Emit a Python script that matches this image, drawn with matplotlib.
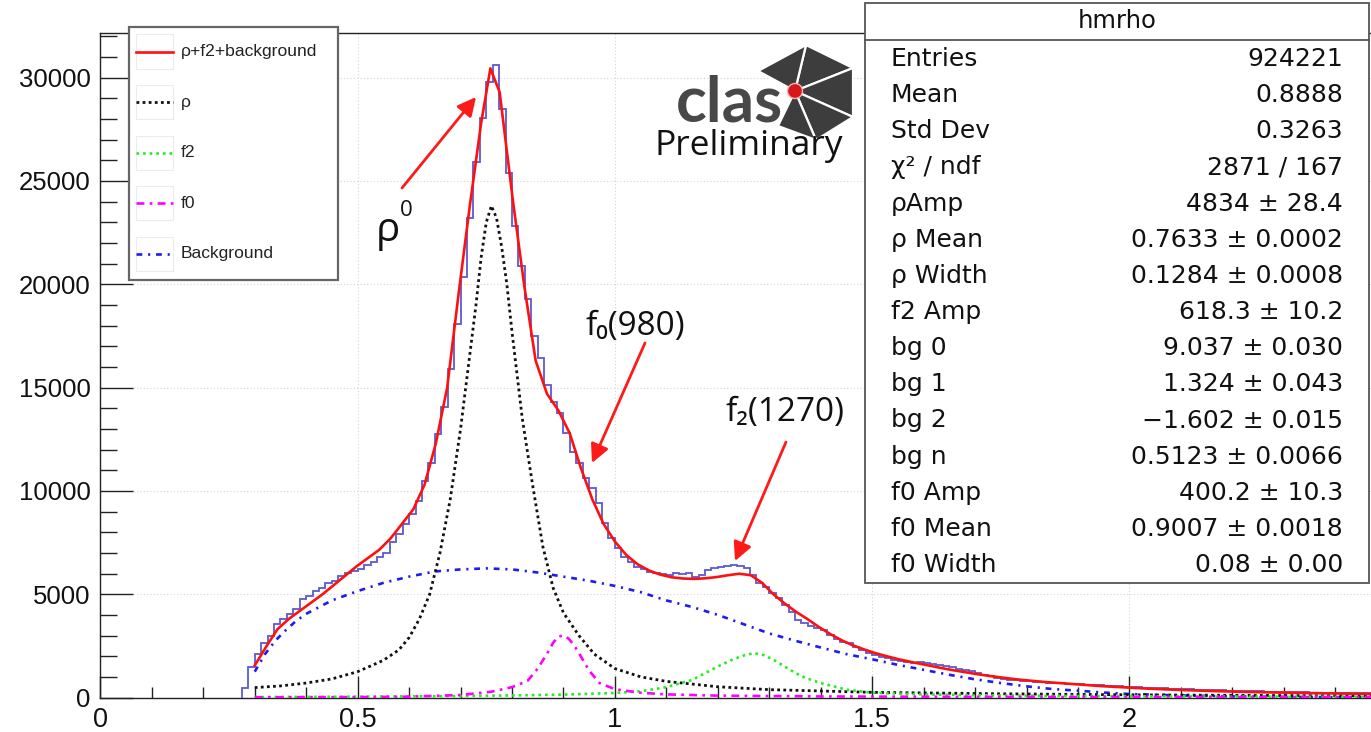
import numpy as np
import matplotlib
matplotlib.use("Agg")
import matplotlib.pyplot as plt
from matplotlib.patches import Rectangle, Polygon, Ellipse
from matplotlib.lines import Line2D

# ---------------- data ----------------
bin_lo = 0.275
bin_width = 0.0125
hist_counts = [
    450, 1500, 2100, 2660, 2990, 3580, 3790, 4030, 4280, 4790,
    4920, 5160, 5290, 5520, 5650, 5860, 6050, 6100, 6210, 6400,
    6570, 6780, 6990, 7550, 7910, 8390, 8880, 9520, 10490, 11370,
    12750, 14040, 15900, 18070, 20330, 23230, 25900, 28070, 29770, 30600,
    28480, 25410, 22830, 20900, 19300, 17500, 16420, 15130, 14320, 13760,
    12790, 11900, 11340, 10610, 10130, 9400, 8430, 7710, 7220, 6820,
    6570, 6330, 6200, 6090, 6010, 5980, 5930, 6040, 5980, 6040,
    5850, 5950, 6170, 6250, 6330, 6380, 6410, 6380, 6250, 5950,
    5530, 5360, 5050, 4800, 4480, 4150, 3750, 3590, 3460, 3350,
    3270, 3030, 2810, 2700, 2620, 2460, 2300, 2170, 2060, 1940,
    1900, 1820, 1790, 1740, 1690, 1700, 1680, 1620, 1560, 1510,
    1460, 1400, 1330, 1270, 1180, 1090, 1020, 960, 910, 870,
    840, 815, 790, 770, 745, 725, 705, 690, 670, 650,
    635, 615, 600, 585, 565, 550, 535, 520, 505, 490,
    475, 462, 450, 440, 428, 415, 402, 392, 380, 370,
    360, 350, 340, 332, 322, 315, 307, 300, 292, 285,
    278, 272, 265, 258, 252, 246, 240, 235, 230, 225,
    220, 215, 210, 205, 200, 196, 192, 188,
]

fit_x = [0.300, 0.322, 0.344, 0.366, 0.388, 0.410, 0.432, 0.454, 0.476, 0.498,
         0.520, 0.542, 0.564, 0.586, 0.608, 0.630, 0.652, 0.674, 0.696, 0.718,
         0.740, 0.758, 0.776, 0.802, 0.824, 0.846, 0.868, 0.890, 0.912, 0.934,
         0.956, 0.978, 1.000, 1.022, 1.044, 1.066, 1.088, 1.110, 1.132, 1.154,
         1.176, 1.198, 1.220, 1.242, 1.264, 1.286, 1.308, 1.330, 1.352, 1.374,
         1.396, 1.418, 1.440, 1.462, 1.484, 1.506, 1.528, 1.550, 1.572, 1.594,
         1.616, 1.638, 1.660, 1.682, 1.704, 1.726, 1.748, 1.770, 1.792, 1.814,
         1.836, 1.858, 1.880, 1.902, 1.924, 1.946, 1.968, 1.990, 2.034, 2.078,
         2.122, 2.166, 2.210, 2.254, 2.298, 2.342, 2.386, 2.430, 2.474]
fit_y = [1550, 2450, 3300, 3800, 4200, 4600, 5000, 5450, 5900, 6350,
         6750, 7150, 7700, 8400, 9100, 10300, 12300, 15000, 19500, 23800,
         27800, 30450, 29300, 24000, 19900, 16300, 14700, 13900, 12800, 11100,
         9600, 8400, 7550, 6900, 6450, 6150, 5950, 5820, 5760, 5740,
         5770, 5830, 5920, 5990, 5920, 5550, 5000, 4550, 4150, 3800,
         3420, 3080, 2780, 2530, 2330, 2150, 2000, 1860, 1740, 1630,
         1520, 1410, 1310, 1220, 1130, 1050, 980, 910, 850, 800,
         750, 710, 670, 630, 590, 550, 520, 490, 430, 385,
         345, 310, 280, 255, 235, 215, 200, 185, 172]

rho_x = [0.30, 0.35, 0.40, 0.45, 0.50, 0.55, 0.58, 0.60, 0.62, 0.64,
         0.66, 0.68, 0.70, 0.72, 0.73, 0.74, 0.75, 0.76, 0.77, 0.78,
         0.79, 0.80, 0.82, 0.84, 0.86, 0.88, 0.90, 0.93, 0.96, 1.00,
         1.05, 1.10, 1.20, 1.30, 1.50, 1.75, 2.00, 2.25, 2.47]
rho_y = [480, 560, 700, 900, 1250, 1800, 2300, 2900, 3800, 5000,
         7000, 9600, 13000, 17000, 19000, 21300, 23000, 23800, 23200, 21800,
         20000, 17700, 13500, 10300, 7300, 5300, 4100, 3000, 2100, 1400,
         1000, 780, 520, 380, 250, 180, 130, 100, 80]

f2_x = [0.30, 0.50, 0.70, 0.80, 0.90, 1.00, 1.05, 1.10, 1.15, 1.20,
        1.23, 1.25, 1.27, 1.29, 1.31, 1.33, 1.35, 1.37, 1.40, 1.45,
        1.50, 1.60, 1.70, 1.80, 2.00, 2.25, 2.47]
f2_y = [20, 40, 70, 100, 140, 220, 300, 500, 850, 1500,
        1850, 2030, 2150, 2050, 1800, 1500, 1200, 950, 700, 380,
        230, 150, 110, 90, 60, 40, 30]

f0_x = [0.30, 0.50, 0.60, 0.70, 0.76, 0.80, 0.83, 0.85, 0.87, 0.88,
        0.89, 0.90, 0.91, 0.92, 0.93, 0.95, 0.97, 1.00, 1.05, 1.10,
        1.20, 1.40, 1.70, 2.00, 2.47]
f0_y = [10, 20, 40, 120, 280, 500, 800, 1400, 2200, 2650,
        2950, 3000, 2850, 2550, 2150, 1300, 700, 400, 230, 150,
        90, 50, 30, 20, 15]

bg_x = [0.30, 0.32, 0.34, 0.36, 0.38, 0.40, 0.45, 0.50, 0.55, 0.60,
        0.65, 0.70, 0.75, 0.80, 0.85, 0.90, 0.95, 1.00, 1.05, 1.10,
        1.15, 1.20, 1.25, 1.30, 1.35, 1.40, 1.45, 1.50, 1.55, 1.60,
        1.65, 1.70, 1.75, 1.80, 1.85, 1.90, 1.95, 2.00, 2.10, 2.20,
        2.30, 2.47]
bg_y = [1250, 2100, 2750, 3250, 3700, 4050, 4700, 5150, 5550, 5850,
        6100, 6200, 6250, 6200, 6050, 5850, 5650, 5400, 5100, 4700,
        4380, 4000, 3550, 3100, 2750, 2420, 2100, 1850, 1580, 1340,
        1100, 880, 700, 540, 410, 330, 240, 170, 100, 55,
        30, 10]

legend_labels = ["ρ+f2+background", "ρ", "f2", "f0", "Background"]
stats_title = "hmrho"
stats_names = ["Entries", "Mean", "Std Dev", "χ² / ndf", "ρAmp", "ρ Mean",
               "ρ Width", "f2 Amp", "bg 0", "bg 1", "bg 2", "bg n",
               "f0 Amp", "f0 Mean", "f0 Width"]
stats_values = ["924221", "0.8888", "0.3263", "2871 / 167", "4834 ± 28.4",
                "0.7633 ± 0.0002", "0.1284 ± 0.0008", "618.3 ± 10.2",
                "9.037 ± 0.030", "1.324 ± 0.043", "−1.602 ± 0.015",
                "0.5123 ± 0.0066", "400.2 ± 10.3", "0.9007 ± 0.0018",
                "0.08 ± 0.00"]
x_ticks = [0, 0.5, 1, 1.5, 2]
x_tick_labels = ["0", "0.5", "1", "1.5", "2"]
y_ticks = [0, 5000, 10000, 15000, 20000, 25000, 30000]
y_tick_labels = ["0", "5000", "10000", "15000", "20000", "25000", "30000"]

# ---------------- layout helpers ----------------
W, H = 1371, 732
def fx(px):
    return px / W
def fy(py):
    return 1.0 - py / H

ROOT_FONT = ["Liberation Sans", "DejaVu Sans"]
STAT_FONT = ["DejaVu Sans"]
ANN_FONT = ["Open Sans", "DejaVu Sans"]

fig = plt.figure(figsize=(W / 100, H / 100), dpi=100)
fig.patch.set_facecolor("white")

ax_left, ax_bottom, ax_top = 100.4, 697.5, 33.0
ax = fig.add_axes([fx(ax_left), fy(ax_bottom), 1 - fx(ax_left), (ax_bottom - ax_top) / H])
px_per_unit = 514.5
px_per_count = (5000 / 103.3)
ax.set_xlim(0, (W - ax_left) / px_per_unit)
ax.set_ylim(0, (ax_bottom - ax_top) * px_per_count)

# grid
ax.set_axisbelow(True)
ax.grid(True, which="major", color="#d4d4d4", linestyle=(0, (1, 2)), linewidth=0.8)

# histogram
edges = bin_lo + bin_width * np.arange(len(hist_counts) + 1)
ax.stairs(hist_counts, edges, color="#5a5ad2", linewidth=1.3, baseline=0, zorder=3)

# components
ax.plot(bg_x, bg_y, color="#1c1cf0", linewidth=1.9, linestyle=(0, (2.2, 2.2, 0.8, 2.2)), zorder=4)
ax.plot(rho_x, rho_y, color="#111111", linewidth=2.0, linestyle=(0, (1, 1.2)), zorder=4)
ax.plot(f2_x, f2_y, color="#22ee22", linewidth=1.9, linestyle=(0, (1, 1.5)), zorder=4)
ax.plot(f0_x, f0_y, color="#ff00ff", linewidth=1.9, linestyle=(0, (3, 2, 1, 2)), zorder=4)
ax.plot(fit_x, fit_y, color="#ff1010", linewidth=1.9, zorder=5)

# axes styling
ax.spines["right"].set_visible(False)
for side in ("left", "bottom", "top"):
    ax.spines[side].set_color("#222222")
    ax.spines[side].set_linewidth(1.0)

ax.set_xticks(x_ticks)
ax.set_xticklabels(x_tick_labels, fontfamily=ROOT_FONT, fontsize=19.5)
ax.set_yticks(y_ticks)
ax.set_yticklabels(y_tick_labels, fontfamily=ROOT_FONT, fontsize=18.5)
ax.set_xticks(np.arange(0.1, 2.5, 0.1), minor=True)
ax.set_yticks(np.arange(1000, 32001, 1000), minor=True)
ax.tick_params(axis="x", which="major", direction="in", length=16, width=1.0, pad=7, colors="#222222")
ax.tick_params(axis="x", which="minor", direction="in", length=8, width=1.0, colors="#222222")
ax.tick_params(axis="y", which="major", direction="in", length=24, width=1.0, pad=7, colors="#222222")
ax.tick_params(axis="y", which="minor", direction="in", length=12, width=1.0, colors="#222222")
for lab in ax.get_xticklabels() + ax.get_yticklabels():
    lab.set_color("#111111")

# ---------------- legend (drawn on figure) ----------------
leg_l, leg_r, leg_t, leg_b = 129, 338, 27, 280
fig.add_artist(Rectangle((fx(leg_l), fy(leg_b)), fx(leg_r) - fx(leg_l), fy(leg_t) - fy(leg_b),
                         transform=fig.transFigure, facecolor="white", edgecolor="#666666",
                         linewidth=1.6, zorder=10))
leg_styles = [
    dict(color="#ff1010", linestyle="-", linewidth=1.9),
    dict(color="#111111", linestyle=(0, (1, 1.2)), linewidth=2.0),
    dict(color="#22ee22", linestyle=(0, (1, 1.5)), linewidth=1.9),
    dict(color="#ff00ff", linestyle=(0, (3, 2, 1, 2)), linewidth=1.9),
    dict(color="#1c1cf0", linestyle=(0, (2.2, 2.2, 0.8, 2.2)), linewidth=1.9),
]
row0, row_step = 51.5, 50.5
for i, (lab, st) in enumerate(zip(legend_labels, leg_styles)):
    yy = row0 + i * row_step
    fig.add_artist(Rectangle((fx(136), fy(yy + 17)), fx(173) - fx(136), fy(yy - 17) - fy(yy + 17),
                             transform=fig.transFigure, facecolor="none", edgecolor="#ececec",
                             linewidth=0.8, zorder=11))
    fig.add_artist(Line2D([fx(136), fx(173)], [fy(yy), fy(yy)], transform=fig.transFigure,
                          zorder=12, **st))
    fig.text(fx(181), fy(yy), lab, fontfamily=ROOT_FONT, fontsize=12.6, color="#222222",
             va="center", ha="left", zorder=12)

# ---------------- stats box ----------------
st_l, st_r, st_t, st_b, st_sep = 865, 1369, 3, 583, 39.5
fig.add_artist(Rectangle((fx(st_l), fy(st_b)), fx(st_r) - fx(st_l), fy(st_t) - fy(st_b),
                         transform=fig.transFigure, facecolor="white", edgecolor="#555555",
                         linewidth=1.3, zorder=10))
fig.add_artist(Line2D([fx(st_l), fx(st_r)], [fy(st_sep), fy(st_sep)], transform=fig.transFigure,
                      color="#555555", linewidth=1.3, zorder=11))
fig.text(fx((st_l + st_r) / 2), fy(21.5), stats_title, fontfamily=STAT_FONT, fontsize=17.5,
         color="#111111", ha="center", va="center", zorder=12)
srow0, srow_step = 59.0, 36.15
for i, (nm, val) in enumerate(zip(stats_names, stats_values)):
    yy = srow0 + i * srow_step
    fig.text(fx(891), fy(yy), nm, fontfamily=STAT_FONT, fontsize=18, color="#111111",
             ha="left", va="center", zorder=12)
    fig.text(fx(1343), fy(yy), val, fontfamily=STAT_FONT, fontsize=18, color="#111111",
             ha="right", va="center", zorder=12)

# ---------------- CLAS logo ----------------
logo_gray = "#3d3d3d"
cx, cy = 795, 91
verts = [(806, 45), (853, 68), (853, 117), (816, 140), (778, 126), (758, 71)]
for a, b in [(0, 1), (1, 2), (2, 3), (3, 4), (5, 0)]:
    pts = [(fx(cx), fy(cy)), (fx(verts[a][0]), fy(verts[a][1])), (fx(verts[b][0]), fy(verts[b][1]))]
    fig.add_artist(Polygon(pts, closed=True, transform=fig.transFigure, facecolor=logo_gray,
                           edgecolor="white", linewidth=1.6, zorder=6))
fig.text(fx(676), fy(121), "clas", fontfamily=["Lato", "DejaVu Sans"], fontsize=46,
         fontweight="bold", color="#484848", ha="left", va="baseline", zorder=7)
fig.add_artist(Ellipse((fx(cx), fy(cy)), 15 / W, 15 / H, transform=fig.transFigure,
                       facecolor="#d81818", edgecolor="#f4b0b0", linewidth=1.0, zorder=8))
fig.text(fx(654), fy(155), "Preliminary", fontfamily=ANN_FONT, fontsize=25.5,
         color="#111111", ha="left", va="baseline", zorder=7)

# ---------------- annotations ----------------
def data_from_px(px, py):
    return (px - ax_left) / px_per_unit, (ax_bottom - py) * px_per_count

arrow_kw = dict(arrowstyle="-|>", color="#ff1a1a", lw=2.0, mutation_scale=28,
                shrinkA=0, shrinkB=0)
ax.annotate("", xy=data_from_px(476, 97), xytext=data_from_px(402, 188),
            xycoords="data", textcoords="data", arrowprops=arrow_kw, zorder=9)
ax.annotate("", xy=data_from_px(592, 463), xytext=data_from_px(645, 343),
            xycoords="data", textcoords="data", arrowprops=arrow_kw, zorder=9)
ax.annotate("", xy=data_from_px(735, 561), xytext=data_from_px(786, 442),
            xycoords="data", textcoords="data", arrowprops=arrow_kw, zorder=9)

fig.text(fx(376), fy(231), "ρ", fontfamily=ANN_FONT, fontsize=29, color="#111111",
         ha="left", va="center", zorder=9)
fig.text(fx(400), fy(211), "0", fontfamily=ANN_FONT, fontsize=16, color="#111111",
         ha="left", va="center", zorder=9)
fig.text(fx(585), fy(327), "f₀(980)", fontfamily=ANN_FONT, fontsize=24, color="#111111",
         ha="left", va="center", zorder=9)
fig.text(fx(726), fy(413), "f₂(1270)", fontfamily=ANN_FONT, fontsize=24, color="#111111",
         ha="left", va="center", zorder=9)

fig.savefig("out.png", dpi=100, facecolor="white")
